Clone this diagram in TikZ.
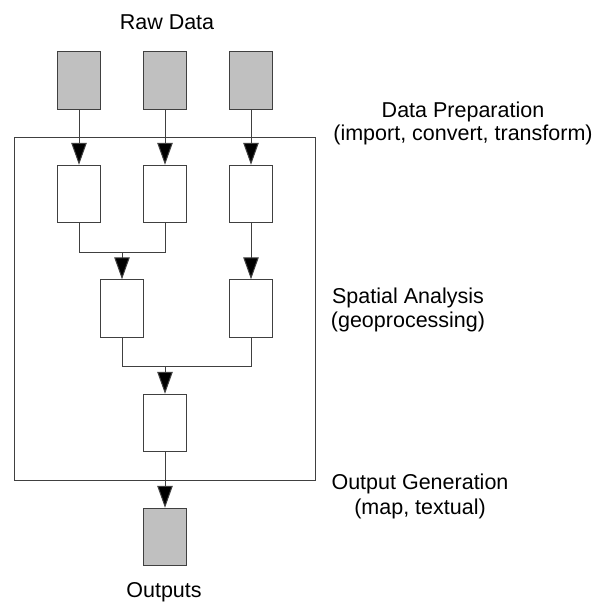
\documentclass[tikz,border=0pt]{standalone}
\usepackage{fontspec}
\setmainfont{Liberation Sans}
\usetikzlibrary{arrows.meta}
\definecolor{boxgray}{HTML}{C0C0C0}
\definecolor{linegray}{HTML}{404040}
\begin{document}
\begin{tikzpicture}[x=1pt,y=-1pt,
  box/.style={draw=linegray,line width=1pt,minimum width=43pt,minimum height=57.5pt,inner sep=0pt},
  rawbox/.style={box,fill=boxgray},
  wbox/.style={box,fill=white},
  conn/.style={draw=linegray,line width=1pt},
  arr/.style={conn,-{Triangle[length=22pt,width=15.5pt,fill=black]}},
  lbl/.style={font=\fontsize{21.5pt}{24pt}\selectfont,anchor=base,inner sep=0pt}]
\useasboundingbox (0,0) rectangle (600,603);
% frame
\node[draw=linegray,line width=1pt,minimum width=300.5pt,minimum height=342.5pt,inner sep=0pt] (frame) at (164.75,308.75) {};
% raw data boxes
\node[rawbox] (r1) at (79,80.5) {};
\node[rawbox] (r2) at (165,80.5) {};
\node[rawbox] (r3) at (251,80.5) {};
% row 1
\node[wbox] (a1) at (79,194) {};
\node[wbox] (a2) at (165,194) {};
\node[wbox] (a3) at (251,194) {};
% row 2
\node[wbox] (b1) at (122,308.5) {};
\node[wbox] (b2) at (251,308.5) {};
% row 3
\node[wbox] (c1) at (165,423) {};
% output
\node[rawbox] (o1) at (165,537) {};
% connectors
\draw[arr] (r1.south) -- (a1.north);
\draw[arr] (r2.south) -- (a2.north);
\draw[arr] (r3.south) -- (a3.north);
\coordinate (m1) at (122,252.3);
\draw[conn] (a1.south) |- (m1) -| (a2.south);
\draw[arr] (m1) -- (b1.north);
\draw[arr] (a3.south) -- (b2.north);
\coordinate (m2) at (165,366.3);
\draw[conn] (b1.south) |- (m2) -| (b2.south);
\draw[arr] (m2) -- (c1.north);
\draw[arr] (c1.south) -- (o1.north);
% labels
\node[lbl] (raw) at (167,29) {Raw Data};
\node[lbl] (outs) at (164,597.5) {Outputs};
\node[lbl] (dp1) at (463,117.5) {Data Preparation};
\node[lbl] (dp2) at (463,140) {(import, convert, transform)};
\node[lbl] (sa1) at (408,303.5) {Spatial Analysis};
\node[lbl] (sa2) at (408,327) {(geoprocessing)};
\node[lbl] (og1) at (420,489.5) {Output Generation};
\node[lbl] (og2) at (420,514) {(map, textual)};
\end{tikzpicture}
\end{document}
